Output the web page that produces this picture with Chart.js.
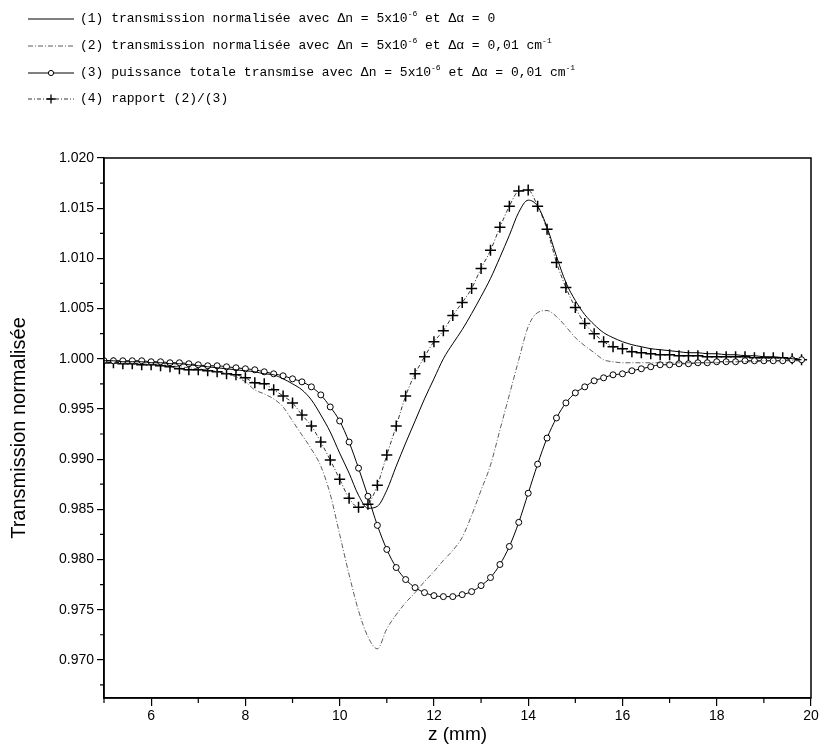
<!DOCTYPE html>
<html>
<head>
<meta charset="utf-8">
<title>Transmission normalisée</title>
<script src="https://cdn.jsdelivr.net/npm/chart.js@4.4.1/dist/chart.umd.min.js"></script>
<style>
  body { margin: 0; background: #fff; }
  #wrap { position: relative; width: 827px; height: 746px; }
  #graphe { position: absolute; left: 0; top: 0; }
  #legende { position: absolute; left: 0; top: 0; font-family: "Courier New", "Liberation Mono", monospace; font-size: 13px; color: #000; }
  .item { position: absolute; left: 28px; white-space: pre; height: 16px; line-height: 16px; }
  .item svg { vertical-align: middle; margin-right: 6px; }
  .item sup { font-size: 8px; vertical-align: 6px; line-height: 0; }
</style>
</head>
<body>
<div id="wrap">
  <canvas id="graphe" width="827" height="746"></canvas>
  <div id="legende"></div>
</div>
<script>
// z (mm), un point tous les 0.2 mm
const zValeurs = [
  5.0, 5.2, 5.4, 5.6, 5.8, 6.0, 6.2, 6.4, 6.6, 6.8,
  7.0, 7.2, 7.4, 7.6, 7.8, 8.0, 8.2, 8.4, 8.6, 8.8,
  9.0, 9.2, 9.4, 9.6, 9.8, 10.0, 10.2, 10.4, 10.6, 10.8,
  11.0, 11.2, 11.4, 11.6, 11.8, 12.0, 12.2, 12.4, 12.6, 12.8,
  13.0, 13.2, 13.4, 13.6, 13.8, 14.0, 14.2, 14.4, 14.6, 14.8,
  15.0, 15.2, 15.4, 15.6, 15.8, 16.0, 16.2, 16.4, 16.6, 16.8,
  17.0, 17.2, 17.4, 17.6, 17.8, 18.0, 18.2, 18.4, 18.6, 18.8,
  19.0, 19.2, 19.4, 19.6, 19.8
];

// (1) transmission normalisée, Δα = 0
const transmission1 = [
  0.9998, 0.9998, 0.9997, 0.9997, 0.9997, 0.9996, 0.9996, 0.9995, 0.9995, 0.9994,
  0.9993, 0.9992, 0.9991, 0.9990, 0.9989, 0.9988, 0.9987, 0.9985, 0.9984, 0.9980,
  0.9975, 0.9969, 0.9959, 0.9944, 0.9927, 0.9906, 0.9886, 0.9864, 0.9851, 0.9853,
  0.9869, 0.9893, 0.9916, 0.9938, 0.9960, 0.9980, 1.0000, 1.0015, 1.0029, 1.0045,
  1.0062, 1.0080, 1.0101, 1.0123, 1.0146, 1.0158, 1.0152, 1.0131, 1.0102, 1.0076,
  1.0058, 1.0044, 1.0034, 1.0026, 1.0021, 1.0017, 1.0014, 1.0012, 1.0010, 1.0009,
  1.0008, 1.0007, 1.0006, 1.0006, 1.0005, 1.0005, 1.0004, 1.0004, 1.0003, 1.0003,
  1.0002, 1.0002, 1.0001, 1.0000, 0.9999
];

// (2) transmission normalisée, Δα = 0,01 cm-1
const transmission2 = [
  0.9996, 0.9996, 0.9995, 0.9995, 0.9995, 0.9994, 0.9994, 0.9993, 0.9992, 0.9991,
  0.9990, 0.9989, 0.9987, 0.9985, 0.9982, 0.9977, 0.9969, 0.9965, 0.9960, 0.9952,
  0.9938, 0.9924, 0.9910, 0.9893, 0.9865, 0.9825, 0.9785, 0.9749, 0.9723, 0.9711,
  0.9731, 0.9745, 0.9757, 0.9767, 0.9778, 0.9788, 0.9799, 0.9809, 0.9822, 0.9844,
  0.9869, 0.9894, 0.9929, 0.9964, 0.9999, 1.0032, 1.0046, 1.0048, 1.0042, 1.0032,
  1.0021, 1.0013, 1.0006, 0.9999, 0.9997, 0.9996, 0.9996, 0.9996, 0.9996, 0.9996,
  0.9996, 0.9996, 0.9996, 0.9996, 0.9996, 0.9996, 0.9997, 0.9997, 0.9997, 0.9997,
  0.9998, 0.9998, 0.9998, 0.9998, 0.9998
];

// (3) puissance totale transmise
const puissance3 = [
  0.9998, 0.9998, 0.9998, 0.9998, 0.9998, 0.9997, 0.9997, 0.9996, 0.9996, 0.9995,
  0.9994, 0.9993, 0.9993, 0.9992, 0.9991, 0.9990, 0.9989, 0.9987, 0.9985, 0.9983,
  0.9980, 0.9977, 0.9972, 0.9964, 0.9952, 0.9938, 0.9917, 0.9891, 0.9863, 0.9834,
  0.9810, 0.9792, 0.9780, 0.9772, 0.9767, 0.9764, 0.9763, 0.9763, 0.9765, 0.9768,
  0.9774, 0.9782, 0.9795, 0.9813, 0.9837, 0.9866, 0.9895, 0.9921, 0.9941, 0.9956,
  0.9966, 0.9972, 0.9978, 0.9981, 0.9984, 0.9985, 0.9988, 0.9990, 0.9992, 0.9994,
  0.9994, 0.9995, 0.9995, 0.9996, 0.9996, 0.9997, 0.9997, 0.9997, 0.9998, 0.9998,
  0.9998, 0.9998, 0.9998, 0.9999, 0.9999
];

// (4) rapport (2)/(3)
const rapport4 = [
  0.9996, 0.9996, 0.9995, 0.9995, 0.9994, 0.9994, 0.9993, 0.9992, 0.9990, 0.9989,
  0.9989, 0.9988, 0.9987, 0.9985, 0.9984, 0.9981, 0.9976, 0.9975, 0.9969, 0.9963,
  0.9956, 0.9944, 0.9933, 0.9917, 0.9899, 0.9880, 0.9861, 0.9852, 0.9855, 0.9874,
  0.9904, 0.9933, 0.9963, 0.9985, 1.0002, 1.0017, 1.0028, 1.0043, 1.0056, 1.0070,
  1.0090, 1.0108, 1.0131, 1.0152, 1.0167, 1.0168, 1.0152, 1.0129, 1.0096, 1.0071,
  1.0051, 1.0035, 1.0025, 1.0017, 1.0012, 1.0010, 1.0007, 1.0006, 1.0005, 1.0004,
  1.0004, 1.0003, 1.0003, 1.0003, 1.0002, 1.0002, 1.0002, 1.0002, 1.0002, 1.0001,
  1.0001, 1.0001, 1.0001, 1.0000, 0.9999
];

// graduations
const xTicks = [6, 8, 10, 12, 14, 16, 18, 20];
const xMineurs = [5, 7, 9, 11, 13, 15, 17, 19];
const yTicks = [0.970, 0.975, 0.980, 0.985, 0.990, 0.995, 1.000, 1.005, 1.010, 1.015, 1.020];
const yMineurs = [0.9675, 0.9725, 0.9775, 0.9825, 0.9875, 0.9925, 0.9975, 1.0025, 1.0075, 1.0125, 1.0175];

const legendes = [
  '(1) transmission normalisée avec Δn = 5x10<sup>-6</sup> et Δα = 0',
  '(2) transmission normalisée avec Δn = 5x10<sup>-6</sup> et Δα = 0,01 cm<sup>-1</sup>',
  '(3) puissance totale transmise avec Δn = 5x10<sup>-6</sup> et Δα = 0,01 cm<sup>-1</sup>',
  '(4) rapport (2)/(3)'
];

const points = serie => zValeurs.map((z, i) => ({ x: z, y: serie[i] }));

// cadre + petites graduations
const cadre = {
  id: 'cadre',
  afterDraw(chart) {
    const { ctx, chartArea: a, scales: { x, y } } = chart;
    ctx.save();
    ctx.strokeStyle = '#000';
    ctx.lineWidth = 1.5;
    ctx.strokeRect(a.left, a.top, a.right - a.left, a.bottom - a.top);
    ctx.lineWidth = 1.2;
    ctx.beginPath();
    xMineurs.forEach(v => {
      const px = x.getPixelForValue(v);
      ctx.moveTo(px, a.bottom);
      ctx.lineTo(px, a.bottom + 5);
    });
    yMineurs.forEach(v => {
      const py = y.getPixelForValue(v);
      ctx.moveTo(a.left, py);
      ctx.lineTo(a.left - 4, py);
    });
    ctx.stroke();
    ctx.restore();
  }
};

new Chart(document.getElementById('graphe'), {
  type: 'line',
  data: {
    datasets: [
      {
        label: legendes[0],
        data: points(transmission1),
        borderColor: '#000',
        borderWidth: 1,
        pointRadius: 0,
        cubicInterpolationMode: 'monotone'
      },
      {
        label: legendes[1],
        data: points(transmission2),
        borderColor: '#333',
        borderWidth: 0.8,
        borderDash: [5, 2, 1, 2],
        pointRadius: 0,
        cubicInterpolationMode: 'monotone'
      },
      {
        label: legendes[2],
        data: points(puissance3),
        borderColor: '#000',
        borderWidth: 1,
        pointStyle: 'circle',
        pointRadius: 3,
        pointBorderWidth: 1,
        pointBorderColor: '#000',
        pointBackgroundColor: '#fff',
        cubicInterpolationMode: 'monotone'
      },
      {
        label: legendes[3],
        data: points(rapport4),
        borderColor: '#000',
        borderWidth: 0.8,
        borderDash: [4, 2, 1, 2],
        pointStyle: 'cross',
        pointRadius: 5.5,
        pointBorderWidth: 1.5,
        pointBorderColor: '#000',
        cubicInterpolationMode: 'monotone'
      }
    ]
  },
  options: {
    responsive: false,
    animation: false,
    layout: { padding: { top: 158, right: 16, left: 0, bottom: 0 } },
    plugins: {
      legend: { display: false },
      tooltip: { enabled: false }
    },
    scales: {
      x: {
        type: 'linear',
        min: 5,
        max: 20,
        afterFit: s => { s.height = 48; },
        afterBuildTicks: s => { s.ticks = xTicks.map(v => ({ value: v })); },
        grid: { drawOnChartArea: false, drawTicks: true, tickLength: 8, color: '#000', lineWidth: 1.2 },
        border: { display: true, color: '#000', width: 1.5 },
        ticks: { color: '#000', padding: 2, maxRotation: 0, font: { family: 'Arial, "Liberation Sans"', size: 14 } },
        title: {
          display: true,
          text: 'z (mm)',
          color: '#000',
          font: { family: 'Arial, "Liberation Sans"', size: 19 },
          padding: { top: 0, bottom: 0 }
        }
      },
      y: {
        min: 0.9662,
        max: 1.020,
        afterFit: s => { s.width = 104; },
        afterBuildTicks: s => { s.ticks = yTicks.map(v => ({ value: v })); },
        grid: { drawOnChartArea: false, drawTicks: true, tickLength: 7, color: '#000', lineWidth: 1.2 },
        border: { display: true, color: '#000', width: 1.5 },
        ticks: {
          color: '#000',
          padding: 3,
          font: { family: 'Arial, "Liberation Sans"', size: 14 },
          callback: v => v.toFixed(3)
        },
        title: {
          display: true,
          text: 'Transmission normalisée',
          color: '#000',
          font: { family: 'Arial, "Liberation Sans"', size: 20 },
          padding: { top: 7, bottom: 0 }
        }
      }
    }
  },
  plugins: [cadre]
});

// légende en texte, au-dessus du graphe
const symboles = [
  '<line x1="0" y1="5" x2="46" y2="5" stroke="#000" stroke-width="1"/>',
  '<line x1="0" y1="5" x2="46" y2="5" stroke="#333" stroke-width="0.8" stroke-dasharray="5 2 1 2"/>',
  '<line x1="0" y1="5" x2="46" y2="5" stroke="#000" stroke-width="1"/><circle cx="23" cy="5" r="2.6" fill="#fff" stroke="#000" stroke-width="1"/>',
  '<line x1="0" y1="5" x2="46" y2="5" stroke="#000" stroke-width="0.8" stroke-dasharray="4 2 1 2"/><path d="M23 0.5 V9.5 M18.5 5 H27.5" stroke="#000" stroke-width="1.3"/>'
];
const hautLignes = [11, 38, 65, 91];
const boite = document.getElementById('legende');
legendes.forEach((txt, i) => {
  const d = document.createElement('div');
  d.className = 'item';
  d.style.top = hautLignes[i] + 'px';
  d.innerHTML = '<svg width="46" height="10">' + symboles[i] + '</svg>' + txt;
  boite.appendChild(d);
});
</script>
</body>
</html>
